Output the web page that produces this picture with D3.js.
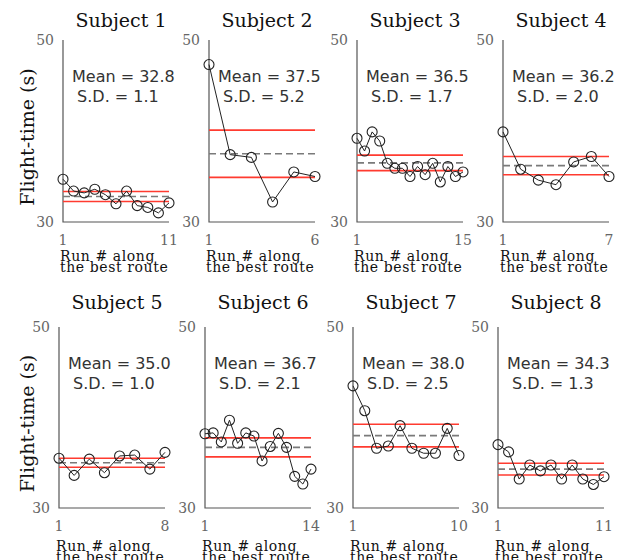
<!DOCTYPE html>
<html>
<head>
<meta charset="utf-8">
<script src="https://cdn.jsdelivr.net/npm/d3@7"></script>
<style>
  body { margin: 0; background: #fff; }
  svg { display: block; }
</style>
</head>
<body>
<svg width="635" height="560"></svg>
<script>
// flight times per run
var runs1 = [34.7, 33.4, 33.2, 33.6, 33.0, 32.0, 33.4, 31.8, 31.6, 31.0, 32.1]
var runs2 = [47.3, 37.4, 37.1, 32.2, 35.5, 35.0]
var runs3 = [39.2, 37.8, 39.9, 38.9, 36.45, 35.9, 35.9, 35.0, 36.1, 35.2, 36.45, 34.4, 36.1, 35.0, 35.5]
var runs4 = [39.9, 35.8, 34.6, 34.1, 36.6, 37.2, 35.0]
var runs5 = [35.5, 33.6, 35.4, 33.9, 35.75, 35.85, 34.3, 36.15]
var runs6 = [38.2, 38.3, 37.3, 39.7, 37.15, 38.3, 37.95, 35.2, 36.8, 38.25, 36.7, 33.5, 32.65, 34.3]
var runs7 = [43.5, 40.75, 36.6, 36.85, 39.1, 36.6, 36.05, 36.05, 38.8, 35.8]
var runs8 = [37.0, 36.2, 33.2, 34.75, 34.1, 34.75, 33.2, 34.75, 33.2, 32.6, 33.46]

var subjects = ['Subject 1', 'Subject 2', 'Subject 3', 'Subject 4',
                'Subject 5', 'Subject 6', 'Subject 7', 'Subject 8']
var means = [32.8, 37.5, 36.5, 36.2, 35.0, 36.7, 38.0, 34.3]
var sds = [1.1, 5.2, 1.7, 2.0, 1.0, 2.1, 2.5, 1.3]
var yTicks = [30, 50]

var allRuns = [runs1, runs2, runs3, runs4, runs5, runs6, runs7, runs8]

// panel boxes (pixels)
var rowTop = [40, 327], rowBottom = [222, 508], titleY = [27, 309]
var xlabY = [261, 551]
var colLeft = [[63, 209, 357, 503], [59, 205, 353, 498]]
var panelW = 106

var svg = d3.select('svg')
var serif = 'DejaVu Serif'

allRuns.forEach(function(runs, i){
    var row = Math.floor(i / 4), col = i % 4
    var left = colLeft[row][col]
    var n = runs.length

    var x = d3.scaleLinear().domain([1, n]).range([left, left + panelW])
    var y = d3.scaleLinear().domain([30, 50]).range([rowBottom[row], rowTop[row]])

    var g = svg.append('g')

    // axes, L shape
    g.append('path')
        .attr('d', `M${x(1)},${y(50)}V${y(30)}H${x(n)}`)
        .attr('fill', 'none')
        .attr('stroke', '#555')
        .attr('stroke-width', 1.2)

    g.selectAll('.ytick').data(yTicks).enter().append('text')
        .attr('x', x(1) - 9)
        .attr('y', d => y(d))
        .attr('dy', '0.36em')
        .attr('text-anchor', 'end')
        .style('font-family', serif)
        .style('font-size', '14px')
        .style('fill', '#666')
        .text(d => d)

    g.selectAll('.xtick').data([1, n]).enter().append('text')
        .attr('x', d => x(d))
        .attr('y', y(30) + 23)
        .attr('text-anchor', 'middle')
        .style('font-family', serif)
        .style('font-size', '14px')
        .style('fill', '#666')
        .text(d => d)

    var xl = g.append('text')
        .attr('y', xlabY[row])
        .style('font-family', serif)
        .style('font-size', '14px')
        .style('letter-spacing', '0.6px')
        .style('fill', '#111')
    xl.append('tspan').attr('x', x(1) - 3).text('Run # along')
    xl.append('tspan').attr('x', x(1) - 3).attr('dy', 11).text('the best route')

    g.append('text')
        .attr('x', (x(1) + x(n)) / 2 + 5)
        .attr('y', titleY[row])
        .attr('text-anchor', 'middle')
        .style('font-family', serif)
        .style('font-size', '19px')
        .style('fill', '#111')
        .text(subjects[i])

    // mean and +/- half SD band
    var m = means[i], s = sds[i]
    g.selectAll('.band').data([m + s / 2, m - s / 2]).enter().append('line')
        .attr('x1', x(1)).attr('x2', x(n))
        .attr('y1', d => y(d)).attr('y2', d => y(d))
        .attr('stroke', '#ff3b30')
        .attr('stroke-width', 1.6)
    g.append('line')
        .attr('x1', x(1)).attr('x2', x(n))
        .attr('y1', y(m)).attr('y2', y(m))
        .attr('stroke', '#7a7a7a')
        .attr('stroke-width', 1.6)
        .attr('stroke-dasharray', '7,4')

    var line = d3.line().x((d, j) => x(j + 1)).y(d => y(d))
    g.append('path')
        .attr('d', line(runs))
        .attr('fill', 'none')
        .attr('stroke', '#222')
        .attr('stroke-width', 1)

    g.selectAll('circle').data(runs).enter().append('circle')
        .attr('cx', (d, j) => x(j + 1))
        .attr('cy', d => y(d))
        .attr('r', 5)
        .attr('fill', 'none')
        .attr('stroke', '#222')
        .attr('stroke-width', 1.1)

    g.append('text')
        .attr('x', x(1) + 9)
        .attr('y', y(50) + 42)
        .style('font-family', 'DejaVu Sans')
        .style('font-size', '16px')
        .style('fill', '#333')
        .text('Mean = ' + m.toFixed(1))
    g.append('text')
        .attr('x', x(1) + 9)
        .attr('y', y(50) + 62)
        .attr('xml:space', 'preserve')
        .style('white-space', 'pre')
        .style('font-family', 'DejaVu Sans')
        .style('font-size', '16px')
        .style('fill', '#333')
        .text(' S.D. = ' + s.toFixed(1))
})

// y labels, one per row
rowTop.forEach(function(t, r){
    var cy = (t + rowBottom[r]) / 2 + 6
    svg.append('text')
        .attr('transform', `translate(34,${cy}) rotate(-90)`)
        .attr('text-anchor', 'middle')
        .style('font-family', serif)
        .style('font-size', '19px')
        .style('fill', '#111')
        .text('Flight-time (s)')
})
</script>
</body>
</html>
